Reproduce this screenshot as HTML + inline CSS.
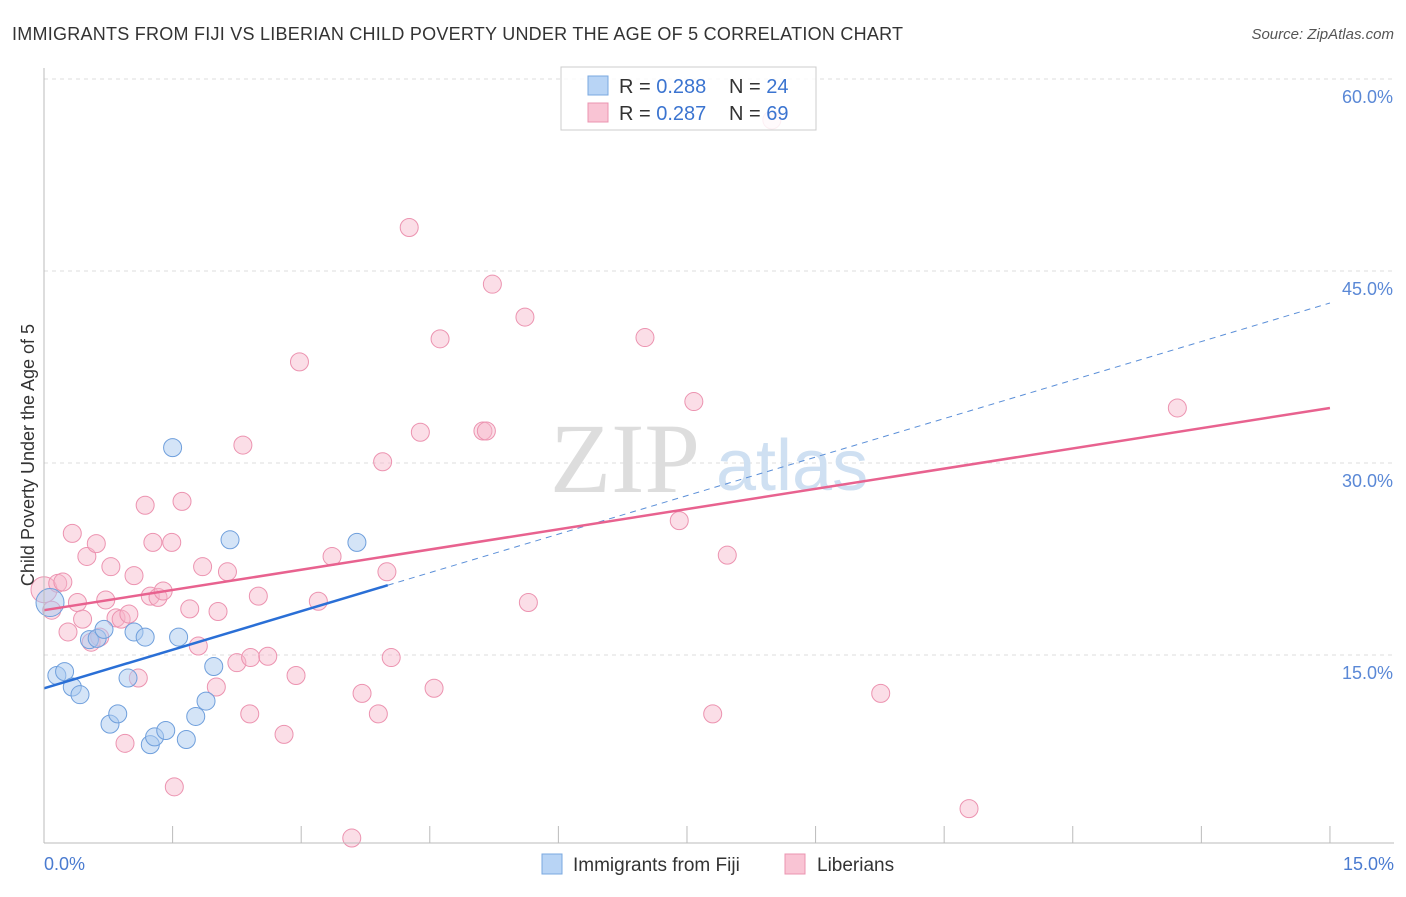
<!DOCTYPE html>
<html><head><meta charset="utf-8"><style>
body{margin:0;background:#fff;font-family:"Liberation Sans",sans-serif}
</style></head><body>
<svg width="1406" height="892" font-family="Liberation Sans, sans-serif">
<text x="12" y="40" font-size="18" fill="#333" textLength="891">IMMIGRANTS FROM FIJI VS LIBERIAN CHILD POVERTY UNDER THE AGE OF 5 CORRELATION CHART</text>
<text x="1394" y="39" font-size="15" fill="#555" text-anchor="end" font-style="italic">Source: ZipAtlas.com</text>
<g id="grid"></g>
<text x="700" y="492" font-size="100" fill="#ddd" text-anchor="end" font-family="Liberation Serif, serif">ZIP</text>
<text x="716" y="490" font-size="72" fill="#cfe0f2">atlas</text>
<g id="pts"></g>
<g id="lines"></g>
<line x1="44" y1="68" x2="44" y2="843" stroke="#bbb"/>
<line x1="44" y1="843" x2="1394" y2="843" stroke="#bbb"/>
<g id="ticks"></g>
<text x="44" y="870" font-size="18" fill="#4a7bd0">0.0%</text>
<text x="1394" y="870" font-size="18" fill="#4a7bd0" text-anchor="end">15.0%</text>
<text transform="translate(34,455) rotate(-90)" font-size="18" fill="#333" text-anchor="middle">Child Poverty Under the Age of 5</text>
<g>
<rect x="561" y="67" width="255" height="63" fill="#fff" fill-opacity="0.85" stroke="#ccc"/>
<rect x="588" y="76" width="20" height="19" fill="#b8d4f5" stroke="#7aa8e0"/>
<rect x="588" y="103" width="20" height="19" fill="#f9c4d4" stroke="#eb94b0"/>
<text x="619" y="93" font-size="20" fill="#333">R = <tspan fill="#3b74d0">0.288</tspan></text>
<text x="729" y="93" font-size="20" fill="#333">N = <tspan fill="#3b74d0">24</tspan></text>
<text x="619" y="120" font-size="20" fill="#333">R = <tspan fill="#3b74d0">0.287</tspan></text>
<text x="729" y="120" font-size="20" fill="#333">N = <tspan fill="#3b74d0">69</tspan></text>
</g>
<g>
<rect x="542" y="854" width="20" height="20" fill="#b8d4f5" stroke="#7aa8e0"/>
<text x="573" y="871" font-size="19" fill="#333">Immigrants from Fiji</text>
<rect x="785" y="854" width="20" height="20" fill="#f9c4d4" stroke="#eb94b0"/>
<text x="817" y="871" font-size="19" fill="#333">Liberians</text>
</g>
</svg>
<script>
const yTicks=[15,30,45,60];
const yTickLabels=["15.0%","30.0%","45.0%","60.0%"];
const xTicks=[0,1.5,3,4.5,6,7.5,9,10.5,12,13.5,15];
const fijiX=[0.07,0.15,0.24,0.33,0.42,0.53,0.62,0.70,0.77,0.86,0.98,1.05,1.18,1.24,1.29,1.42,1.50,1.57,1.66,1.77,1.89,1.98,2.17,3.65];
const fijiY=[19.1,13.4,13.7,12.5,11.9,16.2,16.3,17.0,9.6,10.4,13.2,16.8,16.4,8.0,8.6,9.1,31.2,16.4,8.4,10.2,11.4,14.1,24.0,23.8];
const libX=[0.0,0.09,0.16,0.22,0.33,0.28,0.39,0.45,0.50,0.55,0.61,0.65,0.72,0.78,0.84,0.90,0.945,0.99,1.05,1.10,1.18,1.24,1.27,1.33,1.39,1.49,1.52,1.61,1.70,1.80,1.85,2.01,2.03,2.14,2.25,2.32,2.40,2.41,2.50,2.61,2.80,2.94,2.98,3.20,3.36,3.59,3.71,3.90,3.95,4.00,4.05,4.26,4.39,4.55,4.62,5.12,5.16,5.23,5.61,5.65,7.01,7.41,7.58,7.80,7.97,8.49,9.76,10.79,13.22];
const libY=[20.1,18.5,20.6,20.7,24.5,16.8,19.1,17.8,22.7,16.0,23.7,16.4,19.3,21.9,17.9,17.8,8.1,18.2,21.2,13.2,26.7,19.6,23.8,19.5,20.0,23.8,4.7,27.0,18.6,15.7,21.9,12.5,18.4,21.5,14.4,31.4,10.4,14.8,19.6,14.9,8.8,13.4,37.9,19.2,22.7,0.7,12.0,10.4,30.1,21.5,14.8,48.4,32.4,12.4,39.7,32.5,32.5,43.97,41.4,19.1,39.8,25.5,34.8,10.4,22.8,56.8,12.0,3.0,34.3];
const fijiLine=[12.4,20.45,42.5];
const fijiLineX=[0,4.01,15];
const libLine=[18.5,34.3];
const libLineX=[0,15];
const X=v=>44+v*85.73, Y=v=>847-v*12.8;
const ns="http://www.w3.org/2000/svg";
function mk(t,a,p){const e=document.createElementNS(ns,t);for(const k in a)e.setAttribute(k,a[k]);p.appendChild(e);return e;}
const grid=document.getElementById('grid'),ticks=document.getElementById('ticks');
yTicks.forEach((t,i)=>{
 const l=mk('line',{x1:44,x2:1394,y1:Y(t),y2:Y(t),stroke:'#ddd','stroke-dasharray':'4,4'},grid);
 
 
 const tx=mk('text',{x:1393,y:Y(t)+24,'font-size':18,fill:'#5a88d6','text-anchor':'end'},grid);
 tx.textContent=yTickLabels[i];
 
 
});
xTicks.forEach(t=>{
 const l=mk('line',{x1:X(t),x2:X(t),y1:826,y2:843,stroke:'#bbb'},ticks);
 
 
});
const pts=document.getElementById('pts');
libX.forEach((x,i)=>{
 const c=mk('circle',{cx:X(x),cy:Y(libY[i]),r:i==0?13:9,fill:'#f7b6ca','fill-opacity':0.45,stroke:'#ec93b0','stroke-width':1},pts);
 
 
});
fijiX.forEach((x,i)=>{
 const c=mk('circle',{cx:X(x),cy:Y(fijiY[i]),r:i==0?14:9,fill:'#a9c9f0','fill-opacity':0.5,stroke:'#6f9fdc','stroke-width':1},pts);
 
 
});
const lines=document.getElementById('lines');
let l=mk('line',{x1:X(fijiLineX[1]),y1:Y(fijiLine[1]),x2:X(fijiLineX[2]),y2:Y(fijiLine[2]),stroke:'#5b8fd8','stroke-width':1,'stroke-dasharray':'6,5'},lines);


l=mk('line',{x1:X(fijiLineX[0]),y1:Y(fijiLine[0]),x2:X(fijiLineX[1]),y2:Y(fijiLine[1]),stroke:'#2a6fd6','stroke-width':2.5},lines);


l=mk('line',{x1:X(libLineX[0]),y1:Y(libLine[0]),x2:X(libLineX[1]),y2:Y(libLine[1]),stroke:'#e8628f','stroke-width':2.5},lines);


</script>
</body></html>
